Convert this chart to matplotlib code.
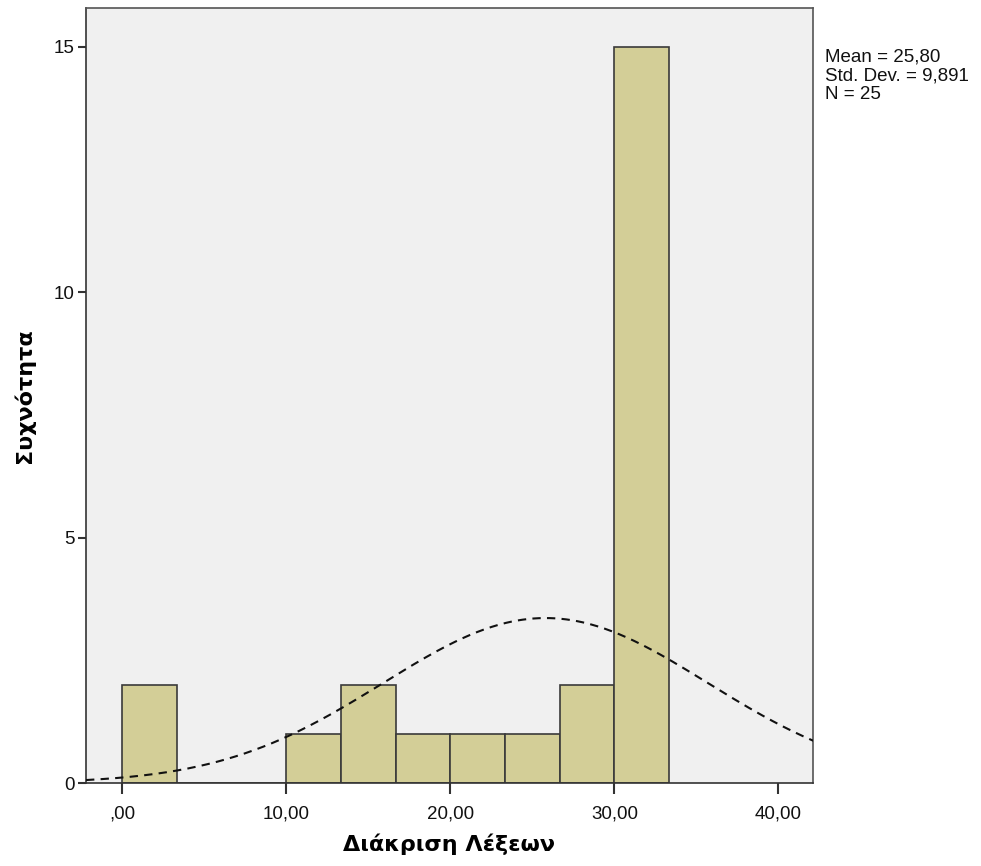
import numpy as np
import matplotlib
matplotlib.use("Agg")
import matplotlib.pyplot as plt

# histogram data (bin edges and counts)
bin_edges = [0.0, 10/3, 20/3, 10.0, 40/3, 50/3, 20.0, 70/3, 80/3, 30.0, 100/3]
counts = [2, 0, 0, 1, 2, 1, 1, 1, 2, 15]
mean, sd, n = 25.80, 9.891, 25

x_ticks = [0, 10, 20, 30, 40]
x_tick_labels = [",00", "10,00", "20,00", "30,00", "40,00"]
y_ticks = [0, 5, 10, 15]

BAR = "#d3ce97"
BG = "#f0f0f0"
EDGE = "#3a3a3a"

fig = plt.figure(figsize=(9.81, 8.66), dpi=100)
ax = fig.add_axes([0.0877, 0.0958, 0.741, 0.895])
ax.set_facecolor(BG)

lefts = np.array(bin_edges[:-1])
widths = np.diff(bin_edges)
ax.bar(lefts, counts, width=widths, align="edge", color=BAR,
       edgecolor=EDGE, linewidth=1.2, zorder=2)

# fitted normal curve scaled to counts
xs = np.linspace(-2.2, 42.2, 400)
bw = widths[0]
ys = n * bw * np.exp(-0.5 * ((xs - mean) / sd) ** 2) / (sd * np.sqrt(2 * np.pi))
ax.plot(xs, ys, color="#111111", linestyle=(0, (4, 3)), linewidth=1.5, zorder=3)

ax.set_xlim(-2.2, 42.1)
ax.set_ylim(0, 15.79)
ax.set_xticks(x_ticks)
ax.set_xticklabels(x_tick_labels, fontsize=13.5, family="Liberation Sans")
ax.set_yticks(y_ticks)
ax.set_yticklabels([str(v) for v in y_ticks], fontsize=13.5,
                   family="Liberation Sans")
ax.tick_params(axis="x", length=8, width=1.5, colors="#333333",
               labelcolor="#111111", pad=8)
ax.tick_params(axis="y", length=6, width=1.5, colors="#333333",
               labelcolor="#111111", pad=2)
for sp in ax.spines.values():
    sp.set_color("#555555")
    sp.set_linewidth(1.2)
ax.spines["left"].set_color("#333333")
ax.spines["bottom"].set_color("#333333")

ax.set_xlabel("Διάκριση Λέξεων", fontsize=16, fontweight="bold",
              family="DejaVu Sans", labelpad=8)
ax.set_ylabel("Συχνότητα", fontsize=16, fontweight="bold",
              family="DejaVu Sans", labelpad=14)

fig.text(0.841, 0.944, "Mean = 25,80\nStd. Dev. = 9,891\nN = 25",
         fontsize=13.5, family="Liberation Sans", va="top", ha="left",
         linespacing=1.15, color="#111111")

fig.savefig("out.png", dpi=100, facecolor="white")
